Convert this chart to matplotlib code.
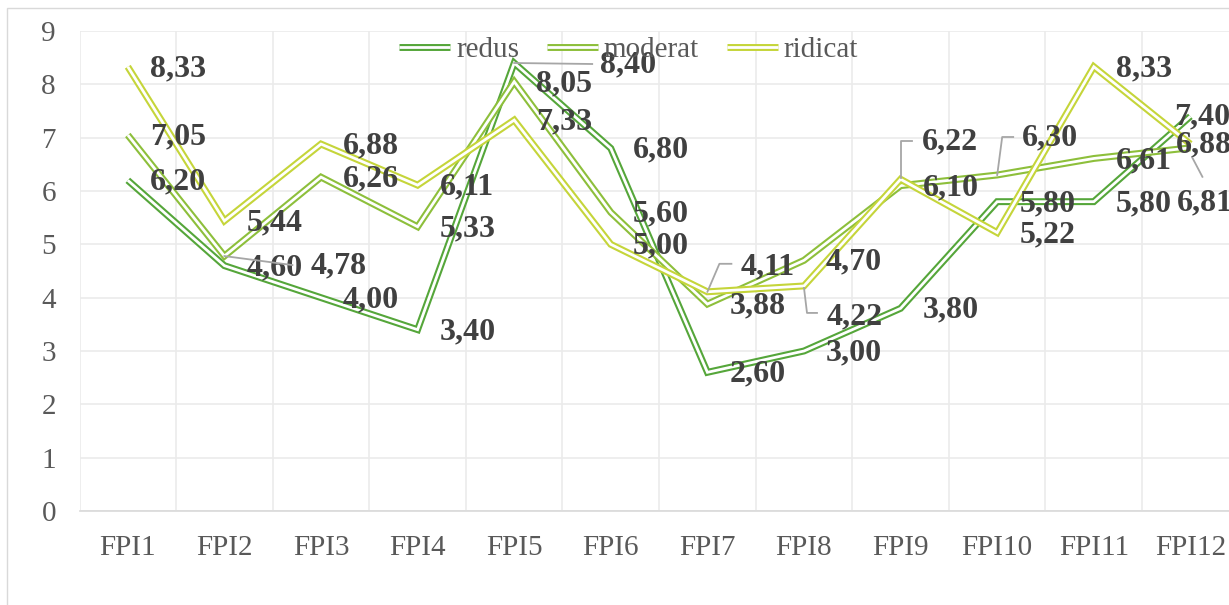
import matplotlib
matplotlib.use("Agg")
import matplotlib.pyplot as plt
import matplotlib.patheffects as pe
from matplotlib.lines import Line2D
from matplotlib.patches import Rectangle
from matplotlib.transforms import IdentityTransform

categories = ["FPI1", "FPI2", "FPI3", "FPI4", "FPI5", "FPI6", "FPI7", "FPI8", "FPI9", "FPI10", "FPI11", "FPI12"]
redus = [6.20, 4.60, 4.00, 3.40, 8.40, 6.80, 2.60, 3.00, 3.80, 5.80, 5.80, 7.40]
moderat = [7.05, 4.78, 6.26, 5.33, 8.05, 5.60, 3.88, 4.70, 6.10, 6.30, 6.61, 6.81]
ridicat = [8.33, 5.44, 6.88, 6.11, 7.33, 5.00, 4.11, 4.22, 6.22, 5.22, 8.33, 6.88]
series_names = ["redus", "moderat", "ridicat"]
yticks = [0, 1, 2, 3, 4, 5, 6, 7, 8, 9]

colors = ["#55a63a", "#8dbf3b", "#c5d53a"]
FONT = ["Liberation Serif", "DejaVu Serif"]
plt.rcParams["font.family"] = FONT

W, H, DPI = 1229, 605, 100
fig = plt.figure(figsize=(W / DPI, H / DPI), dpi=DPI)
fig.patch.set_facecolor("white")

# outer chart border
fig.patches.append(Rectangle((7 / W, -0.1), 1.2, (H - 8) / H + 0.1, transform=fig.transFigure,
                             fill=False, edgecolor="#d9d9d9", linewidth=1.0))

left_px, step_px = 79.5, 96.6
top_px, bot_px = 31, 511
ax = fig.add_axes([left_px / W, 1 - bot_px / H, 12 * step_px / W, (bot_px - top_px) / H])
ax.set_facecolor("none")
ax.set_xlim(-0.5, len(categories) - 0.5)
ax.set_ylim(0, 9)

for s in ["top", "right", "left"]:
    ax.spines[s].set_visible(False)
ax.spines["bottom"].set_color("#d9d9d9")
ax.spines["bottom"].set_linewidth(1.2)

x = list(range(len(categories)))
ax.set_xticks(x)
ax.set_xticklabels(categories)
ax.set_yticks(yticks)
ax.set_yticklabels([str(t) for t in yticks])
ax.set_xticks([i - 0.5 for i in range(len(categories) + 1)], minor=True)
ax.tick_params(axis="both", which="both", length=0)
ax.tick_params(axis="x", pad=17, labelsize=21, labelcolor="#595959")
ax.tick_params(axis="y", pad=17, labelsize=21, labelcolor="#595959")
ax.grid(axis="y", which="major", color="#ebebeb", linewidth=1.2)
ax.grid(axis="x", which="minor", color="#ebebeb", linewidth=1.2)
ax.set_axisbelow(True)

OUT, INN = 5.0, 2.0
handles = []
all_series = [redus, moderat, ridicat]
for name, vals, c in zip(series_names, all_series, colors):
    effects = [pe.Stroke(linewidth=OUT, foreground=c), pe.Stroke(linewidth=INN, foreground="white")]
    ln, = ax.plot(x, vals, color=c, linewidth=OUT, solid_joinstyle="miter", solid_capstyle="butt",
                  label=name, path_effects=effects, clip_on=False)
    handles.append(ln)

leg = fig.legend(handles=handles, labels=series_names, loc="center", bbox_to_anchor=(628.5 / W, 1 - 50 / H),
                 ncol=3, frameon=False, fontsize=21, handlelength=1.75, handletextpad=0.2,
                 columnspacing=0.95, borderpad=0, borderaxespad=0)
for t in leg.get_texts():
    t.set_color("#595959")

# data label placement (pixel offsets of label left/center from the point; y up)
default_off = (22, -2)
custom_off = {
    (0, 4): (86, -2),
    (0, 11): (-16, -1),
    (1, 1): (86, -10),
    (1, 9): (25, 37),
    (1, 11): (-14, -55),
    (2, 6): (33, 25),
    (2, 7): (23, -31),
    (2, 8): (21, 37),
    (2, 11): (-15, -1),
}
leaders = {
    (0, 4): [(0, 0), (78, -1)],
    (1, 1): [(0, 0), (68, -9)],
    (1, 9): [(0, 0), (5, 38), (16, 38)],
    (1, 11): [(2, -10), (12, -29)],
    (2, 6): [(0, 0), (12, 28), (24, 28)],
    (2, 7): [(0, -2), (3, -27), (13, -27)],
    (2, 8): [(0, 1), (0, 38), (11, 38)],
}

fig.canvas.draw()
for si, vals in enumerate(all_series):
    for i, v in enumerate(vals):
        dx, dy = custom_off.get((si, i), default_off)
        ax.annotate(f"{v:.2f}".replace(".", ","), xy=(i, v), xytext=(dx, dy), textcoords="offset pixels",
                    ha="left", va="center", fontsize=23, fontweight="bold", color="#404040",
                    annotation_clip=False)
        if (si, i) in leaders:
            px, py = ax.transData.transform((i, v))
            pts = leaders[(si, i)]
            xs = [px + a for a, b in pts]
            ys = [py + b for a, b in pts]
            fig.add_artist(Line2D(xs, ys, transform=IdentityTransform(), color="#a6a6a6", linewidth=1.3))

fig.savefig("out.png", dpi=DPI)
